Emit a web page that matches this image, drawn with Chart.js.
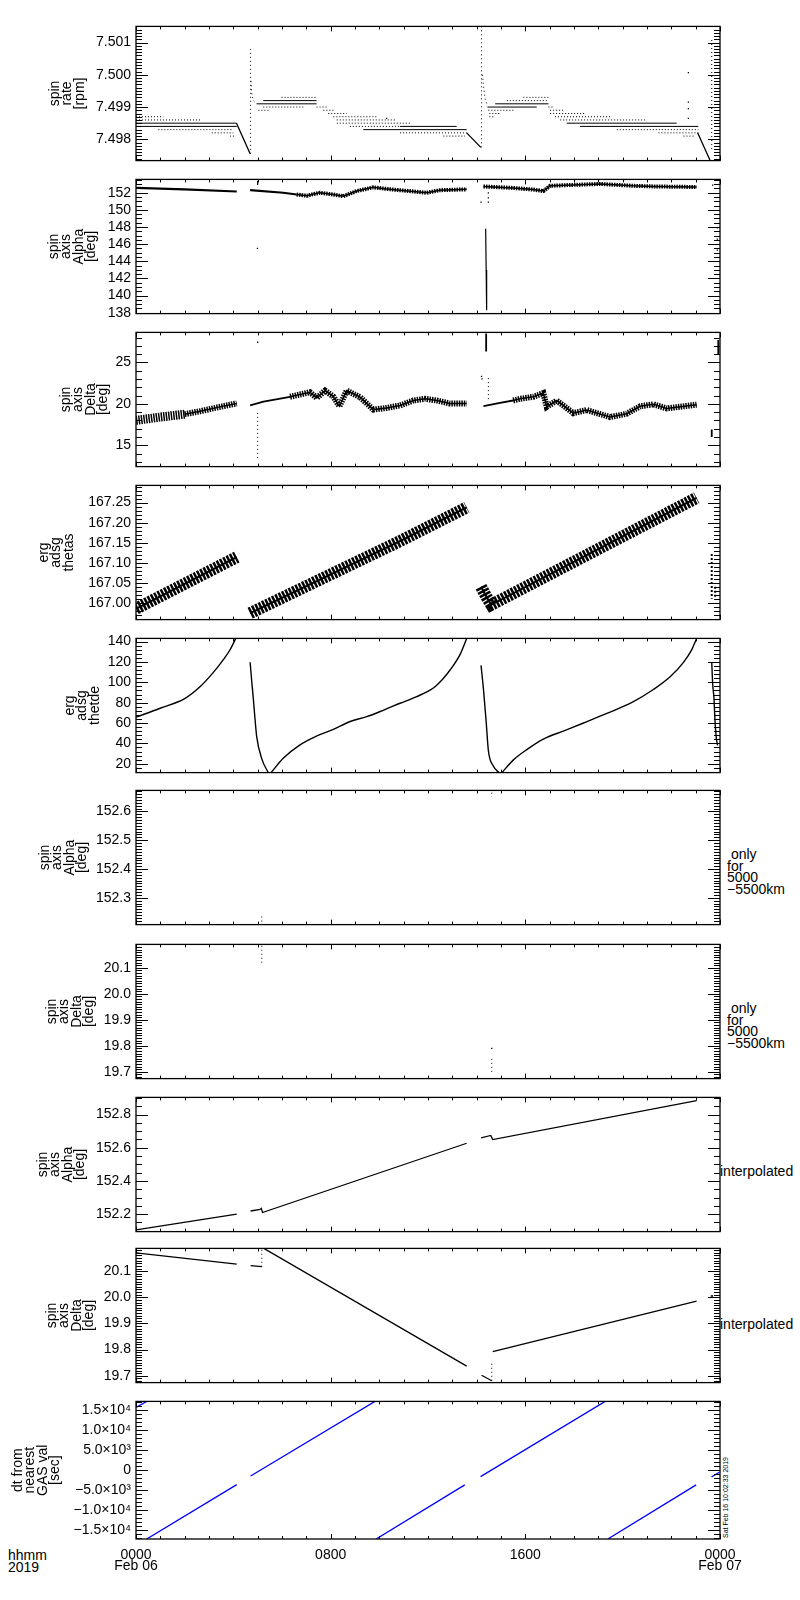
<!DOCTYPE html>
<html>
<head>
<meta charset="utf-8">
<script src="https://cdn.jsdelivr.net/npm/chart.js"></script>
<style>
  body { margin: 0; background: #fff; }
  #page { position: relative; width: 800px; height: 1600px; font-family: "Liberation Sans", Arial, sans-serif; color: #000; }
  .panel { position: absolute; left: 0; width: 800px; }
  .note { position: absolute; font-size: 14px; line-height: 11.5px; white-space: pre; }
  .stamp { position: absolute; font-size: 7px; line-height: 7px; white-space: pre; transform: rotate(-90deg); transform-origin: left top; }
</style>
</head>
<body>
<div id="page">
  <div class="note" style="left:8px;top:1550px;">hhmm
2019</div>
  <div class="note" style="left:727px;top:849px;"> only
for
5000
−5500km</div>
  <div class="note" style="left:727px;top:1003px;"> only
for
5000
−5500km</div>
  <div class="note" style="left:720px;top:1166px;">interpolated</div>
  <div class="note" style="left:720px;top:1319px;">interpolated</div>
  <div class="stamp" style="left:722px;top:1538px;">Sat Feb 16 10:02:33 2019</div>
</div>
<script>
// ---- x axis (hours since 0000 Feb 06) ----
const hourTicks = [0, 8, 16, 24];
const hourLabels = [['0000', 'Feb 06'], ['0800', ''], ['1600', ''], ['0000', 'Feb 07']];

// ---- panel 1: spin rate [rpm] ----
const rateTicks = [7.498, 7.499, 7.500, 7.501];
const rateTickLabels = ['7.498', '7.499', '7.500', '7.501'];
// quantised levels: [from h, to h, rpm]
const rateSolid = [
    [0, 4.14, 7.4985], [0, 4.14, 7.4984],
    [4.96, 7.42, 7.4991], [5.23, 7.42, 7.4992],
    [9.34, 13.59, 7.4983], [10.85, 13.18, 7.4984],
    [14.76, 16.95, 7.4991], [14.44, 16.47, 7.4990],
    [17.70, 22.22, 7.4985], [18.25, 23.11, 7.4984]
];
const rateDotted = [
    [0, 1.12, 7.4987], [0, 2.70, 7.4986], [0.92, 4.0, 7.4983], [3.11, 4.0, 7.4982], [3.86, 4.07, 7.4981],
    [5.98, 7.42, 7.4993], [5.23, 6.88, 7.4990], [5.03, 5.51, 7.4989],
    [7.42, 7.90, 7.4990], [7.70, 8.11, 7.4989], [7.90, 8.66, 7.4988], [8.11, 9.89, 7.4987],
    [8.25, 10.71, 7.4986], [8.25, 11.33, 7.4985], [8.79, 10.85, 7.4984], [10.85, 13.59, 7.4982], [12.63, 13.52, 7.4981],
    [15.92, 16.95, 7.4993], [15.24, 16.95, 7.4992], [14.48, 15.58, 7.4989], [14.52, 14.96, 7.4988], [14.52, 14.76, 7.4987],
    [16.95, 17.18, 7.4990], [17.02, 17.63, 7.4989], [17.02, 18.45, 7.4988], [17.22, 19.48, 7.4987],
    [17.43, 20.99, 7.4986], [19.76, 23.11, 7.4983], [21.47, 23.11, 7.4982], [22.50, 22.98, 7.4981]
];
const rateDrops = [[4.13, 7.4985], [4.69, 7.49755], null, [13.59, 7.4982], [14.17, 7.49775], null, [23.08, 7.4982], [23.59, 7.49735]];
const rateSpikes = [
    [4.71, 7.49755], [4.71, 7.5008], null, [4.73, 7.4998], [4.75, 7.49945], [4.82, 7.4992], [4.96, 7.4991], null,
    [14.2, 7.49775], [14.2, 7.5015], null, [14.24, 7.5], [14.28, 7.49965], [14.35, 7.49925], [14.44, 7.49905], null,
    [23.66, 7.4977], [23.66, 7.5011]
];
const rateDots = [[22.7, 7.50007], [22.7, 7.49915], [22.7, 7.49895], [22.7, 7.49865], [10.3, 7.49865]];

// ---- panel 2: spin axis Alpha [deg] ----
const alphaTicks = [138, 140, 142, 144, 146, 148, 150, 152];
const alphaTickLabels = ['138', '140', '142', '144', '146', '148', '150', '152'];
const alphaThin = [[0, 152.56], [2, 152.4], [4.14, 152.15], null, [4.69, 152.3], [6.05, 152.0], [6.6, 151.8]];
const alphaNoisy = [
    [6.6, 151.8], [7.02, 151.65], [7.3, 151.85], [7.56, 152.0], [8.1, 151.8], [8.52, 151.6], [9.07, 152.2],
    [9.75, 152.63], [10.3, 152.45], [10.85, 152.3], [11.95, 152.0], [12.49, 152.3], [13.59, 152.4], null,
    [14.28, 152.74], [15.5, 152.56], [16.33, 152.37], [16.74, 152.2], [17.02, 152.81], [17.97, 152.92],
    [19.07, 153.03], [20.44, 152.81], [21.26, 152.74], [23.04, 152.67]
];
const alphaDrop = [[14.37, 147.8], [14.39, 143.0], [14.4, 140.0], [14.42, 138.3], null, [5.0, 153.4], [5.0, 152.9]];
const alphaDots = [[4.99, 145.5], [14.18, 150.9], [14.48, 152.0], [14.48, 151.4], [14.48, 150.9], [23.89, 147.9], [23.89, 146.6], [23.89, 145.3], [23.7, 152.9]];

// ---- panel 3: spin axis Delta [deg] ----
const deltaTicks = [15, 20, 25];
const deltaTickLabels = ['15', '20', '25'];
const deltaWide = [[0, 18.0], [1.0, 18.4], [2.0, 18.75]];
const deltaNoisy = [
    [2.0, 18.75], [2.63, 19.1], [3.4, 19.6], [4.14, 20.05], null,
    [6.33, 20.85], [7.15, 21.4], [7.43, 20.7], [7.77, 21.6], [8.1, 20.9], [8.36, 19.7], [8.66, 21.6], [9.21, 20.8],
    [9.75, 19.3], [10.3, 19.5], [10.85, 19.8], [11.4, 20.4], [11.88, 20.6], [12.36, 20.4], [12.9, 20.03], [13.59, 20.03], null,
    [15.5, 20.4], [15.78, 20.6], [16.33, 20.85], [16.74, 21.3], [16.88, 19.63], [17.29, 20.4], [17.97, 18.87], [18.52, 19.25],
    [19.48, 18.4], [20.17, 18.8], [20.71, 19.7], [21.26, 19.94], [21.81, 19.44], [23.04, 19.9]
];
const deltaThin = [[4.69, 19.8], [5.24, 20.25], [6.33, 20.85], null, [14.28, 19.71], [14.96, 20.1], [15.5, 20.4], null,
    [14.39, 28.5], [14.39, 26.3], null, [23.93, 27.7], [23.93, 26.0], null, [23.66, 16.9], [23.66, 16.0]];
const deltaDotted = [[5.0, 18.9], [5.0, 13.1], null, [14.48, 23.1], [14.48, 20.4]];
const deltaDots = [[5.0, 27.43], [14.2, 23.3], [14.22, 23.0]];

// ---- panel 4: erg adsg thetas ----
const thetasTicks = [167.00, 167.05, 167.10, 167.15, 167.20, 167.25];
const thetasTickLabels = ['167.00', '167.05', '167.10', '167.15', '167.20', '167.25'];
const thetasBand = [[0, 166.985], [4.14, 167.114], null, [4.69, 166.974], [10.85, 167.154], [13.59, 167.238], null,
    [14.18, 167.04], [14.4, 167.015], [14.6, 166.995], [23.04, 167.262]];
const thetasEdge = [[23.66, 167.122], [23.66, 167.01], null, [23.8, 167.04], [23.8, 167.01]];

// ---- panel 5: erg adsg thetde ----
const thetdeTicks = [20, 40, 60, 80, 100, 120, 140];
const thetdeTickLabels = ['20', '40', '60', '80', '100', '120', '140'];
const thetdeCurve = [
    [0, 65.7], [0.99, 74.5], [2.0, 84], [2.63, 95.6], [3.18, 109.7], [3.59, 122.3], [3.86, 131.7], [4.11, 143.5], null,
    [4.69, 119.7], [4.76, 100], [4.82, 84.4], [4.87, 70], [4.96, 46.7], [5.17, 24.8], [5.44, 11], null,
    [5.54, 11], [6.05, 25.4], [6.74, 38.6], [7.43, 47.3], [8.11, 53.7], [8.8, 61.5], [9.48, 66.2], [10.16, 72.5],
    [10.85, 79.4], [11.54, 86], [12.22, 94.4], [12.6, 103], [12.9, 111.8], [13.32, 127.4], [13.59, 143.1], null,
    [14.18, 116.6], [14.28, 93], [14.39, 61.5], [14.48, 33.2], [14.69, 17.5], [14.93, 11], null,
    [15.03, 11], [15.51, 23.8], [16.06, 33.9], [16.74, 44.2], [17.56, 52.1], [18.39, 60], [19.35, 69.4],
    [20.44, 81], [21.26, 92.9], [21.95, 105.4], [22.5, 119.6], [22.84, 132.1], [23.04, 143], null,
    [23.66, 120], [23.7, 98], [23.75, 85], [23.8, 60], [23.85, 45], [23.9, 38]
];

// ---- panel 6: spin axis Alpha [deg], 5000-5500 km only ----
const alphaOnlyTicks = [152.3, 152.4, 152.5, 152.6];
const alphaOnlyTickLabels = ['152.3', '152.4', '152.5', '152.6'];
const alphaOnly = [[5.17, 152.235], [5.17, 152.215], null, [14.62, 152.665], [14.62, 152.65]];

// ---- panel 7: spin axis Delta [deg], 5000-5500 km only ----
const deltaOnlyTicks = [19.7, 19.8, 19.9, 20.0, 20.1];
const deltaOnlyTickLabels = ['19.7', '19.8', '19.9', '20.0', '20.1'];
const deltaOnly = [[5.17, 20.185], [5.17, 20.115], null, [14.62, 19.75], [14.62, 19.69]];
const deltaOnlyDots = [[14.62, 19.79]];

// ---- panel 8: spin axis Alpha [deg], interpolated ----
const alphaIntTicks = [152.2, 152.4, 152.6, 152.8];
const alphaIntTickLabels = ['152.2', '152.4', '152.6', '152.8'];
const alphaInterp = [[0, 152.105], [4.14, 152.2], null, [4.71, 152.219], [5.10, 152.228], [5.15, 152.235], [5.2, 152.21],
    [13.59, 152.627], null, [14.18, 152.66], [14.58, 152.674], [14.66, 152.649], [23.04, 152.883]];

// ---- panel 9: spin axis Delta [deg], interpolated ----
const deltaIntTicks = [19.7, 19.8, 19.9, 20.0, 20.1];
const deltaIntTickLabels = ['19.7', '19.8', '19.9', '20.0', '20.1'];
const deltaInterp = [[0, 20.17], [4.14, 20.127], null, [4.71, 20.121], [5.17, 20.117], null, [5.2, 20.19], [13.59, 19.737], null,
    [14.2, 19.702], [14.62, 19.681], null, [14.66, 19.792], [23.04, 19.985], null, [23.62, 20.005], [23.72, 20.005]];
const deltaInterpDotted = [[5.17, 20.117], [5.17, 20.187], null, [14.62, 19.681], [14.62, 19.75]];

// ---- panel 10: dt from nearest GAS val [sec] ----
const dtTicks = [-15000, -10000, -5000, 0, 5000, 10000, 15000];
const dtTickLabels = ['−1.5×10⁴', '−1.0×10⁴', '−5.0×10³', '0', '5.0×10³', '1.0×10⁴', '1.5×10⁴'];
const gasDt = [[0, 15700], [0.44, 17200], null, [0.44, -17200], [4.14, -3600], null, [4.71, -1440], [9.82, 17200], null,
    [9.87, -17200], [13.51, -3680], null, [14.16, -1600], [19.28, 17200], null, [19.39, -17200], [23.02, -3680], null,
    [23.65, -1700], [23.97, -500]];

const FONT = '"Liberation Sans", Arial, sans-serif';
const panelTops = [23, 176, 329, 482, 635, 787, 941, 1094, 1245, 1398];
const PLOT_H = 141;

function pts(list) {
    const out = [];
    let lastX = 0;
    list.forEach(p => {
        if (p === null) {
            out.push({x: lastX, y: null});
        } else {
            out.push({x: p[0], y: p[1]});
            lastX = p[0];
        }
    });
    return out;
}

function levels(list) {
    const out = [];
    list.forEach(s => out.push([s[0], s[2]], [s[1], s[2]], null));
    return out;
}

function path(list, width, extra) {
    return Object.assign({
        data: pts(list), borderColor: '#000', borderWidth: width, pointRadius: 0,
        tension: 0, fill: false, spanGaps: false
    }, extra || {});
}

function dots(list) {
    return {
        data: pts(list), showLine: false, pointRadius: 0.9, pointStyle: 'rect',
        pointBackgroundColor: '#000', pointBorderWidth: 0, borderColor: '#000'
    };
}

// frame plus inward tick marks on all four sides
const frameTicks = {
    id: 'frameTicks',
    afterDraw(chart, args, opts) {
        const {ctx, chartArea: a, scales: {x, y}} = chart;
        ctx.save();
        ctx.strokeStyle = '#000';
        ctx.lineWidth = 1;
        ctx.beginPath();
        for (let h = 0; h <= 24; h++) {
            const px = Math.round(x.getPixelForValue(h)) + 0.5;
            const len = h % 8 === 0 ? 5 : 3;
            ctx.moveTo(px, a.bottom); ctx.lineTo(px, a.bottom - len);
            ctx.moveTo(px, a.top); ctx.lineTo(px, a.top + len);
        }
        const step = opts.minor;
        const k0 = Math.ceil(y.min / step - 1e-6), k1 = Math.floor(y.max / step + 1e-6);
        for (let k = k0; k <= k1; k++) {
            const v = k * step;
            const isMajor = opts.major.some(t => Math.abs(t - v) < step / 2);
            const len = isMajor ? 12 : 6;
            const py = Math.round(y.getPixelForValue(v)) + 0.5;
            ctx.moveTo(a.left, py); ctx.lineTo(a.left + len, py);
            ctx.moveTo(a.right, py); ctx.lineTo(a.right - len, py);
        }
        ctx.stroke();
        ctx.lineWidth = 1.3;
        ctx.strokeRect(a.left, a.top, a.width, a.height);
        ctx.restore();
    }
};

function makePanel(i, cfg) {
    const last = cfg.last === true;
    const padTop = 10, padBottom = last ? 0 : 10, xAxisH = last ? 48 : 0;
    const wrap = document.createElement('div');
    wrap.className = 'panel';
    wrap.style.top = (panelTops[i] - padTop) + 'px';
    wrap.style.height = (PLOT_H + padTop + padBottom + xAxisH) + 'px';
    const canvas = document.createElement('canvas');
    wrap.appendChild(canvas);
    document.getElementById('page').appendChild(wrap);

    new Chart(canvas, {
        type: 'line',
        data: {datasets: cfg.datasets},
        options: {
            responsive: true,
            maintainAspectRatio: false,
            animation: false,
            events: [],
            layout: {padding: {left: 0, right: 80, top: padTop, bottom: padBottom}},
            plugins: {
                legend: {display: false},
                tooltip: {enabled: false},
                frameTicks: {minor: cfg.minor, major: cfg.ticks}
            },
            scales: {
                x: {
                    type: 'linear', min: 0, max: 24, display: last,
                    afterBuildTicks: s => { s.ticks = hourTicks.map(v => ({value: v})); },
                    afterFit: s => { s.height = xAxisH; },
                    ticks: {
                        callback: (v, idx) => hourLabels[idx], autoSkip: false, maxRotation: 0,
                        padding: 10, color: '#000', font: {family: FONT, size: 14, lineHeight: '11.5px'}
                    },
                    grid: {display: false, drawTicks: false},
                    border: {display: false}
                },
                y: {
                    type: 'linear', min: cfg.min, max: cfg.max,
                    afterBuildTicks: s => { s.ticks = cfg.ticks.map(v => ({value: v})); },
                    afterFit: s => { s.width = 136; },
                    ticks: {
                        callback: (v, idx) => cfg.labels[idx], autoSkip: false, padding: 5,
                        color: '#000', font: {family: FONT, size: 14}
                    },
                    grid: {display: false, drawTicks: false},
                    border: {display: false},
                    title: {
                        display: true, text: cfg.title, color: '#000',
                        font: {family: FONT, size: 14, lineHeight: '12.5px'},
                        padding: {top: cfg.titleX - 6.25, bottom: 0}
                    }
                }
            }
        },
        plugins: [frameTicks]
    });
}

const dotted = {borderDash: [1, 3]};
const speckle = {borderDash: [1.5, 1]};

makePanel(0, {
    title: ['spin', 'rate', '[rpm]'], titleX: 55, min: 7.49734, max: 7.5015, minor: 0.0001,
    ticks: rateTicks, labels: rateTickLabels,
    datasets: [
        path(levels(rateSolid), 1),
        path(levels(rateDotted), 1, {borderDash: [1, 2]}),
        path(rateDrops, 1.3),
        path(rateSpikes, 1, dotted),
        dots(rateDots)
    ]
});
makePanel(1, {
    title: ['spin', 'axis', 'Alpha', '[deg]'], titleX: 54, min: 137.9, max: 153.56, minor: 0.5,
    ticks: alphaTicks, labels: alphaTickLabels,
    datasets: [path(alphaThin, 2.2), path(alphaNoisy, 4, speckle), path(alphaNoisy, 1.5), path(alphaDrop, 1.2), dots(alphaDots)]
});
makePanel(2, {
    title: ['spin', 'axis', 'Delta', '[deg]'], titleX: 66, min: 12.42, max: 28.62, minor: 1,
    ticks: deltaTicks, labels: deltaTickLabels,
    datasets: [path(deltaWide, 9, speckle), path(deltaNoisy, 6, speckle), path(deltaNoisy, 1.5), path(deltaThin, 1.8),
        path(deltaDotted, 1, dotted), dots(deltaDots)]
});
makePanel(3, {
    title: ['erg', 'adsg', 'thetas'], titleX: 44, min: 166.958, max: 167.293, minor: 0.01,
    ticks: thetasTicks, labels: thetasTickLabels,
    datasets: [path(thetasBand, 12, {borderDash: [2.5, 1.2]}), path(thetasBand, 2), path(thetasEdge, 2, {borderDash: [2, 2]})]
});
makePanel(4, {
    title: ['erg', 'adsg', 'thetde'], titleX: 70, min: 11.3, max: 143.1, minor: 4,
    ticks: thetdeTicks, labels: thetdeTickLabels,
    datasets: [path(thetdeCurve, 1.4, {cubicInterpolationMode: 'monotone'})]
});
makePanel(5, {
    title: ['spin', 'axis', 'Alpha', '[deg]'], titleX: 45, min: 152.207, max: 152.673, minor: 0.01,
    ticks: alphaOnlyTicks, labels: alphaOnlyTickLabels,
    datasets: [path(alphaOnly, 1, dotted)]
});
makePanel(6, {
    title: ['spin', 'axis', 'Delta', '[deg]'], titleX: 52, min: 19.674, max: 20.19, minor: 0.01,
    ticks: deltaOnlyTicks, labels: deltaOnlyTickLabels,
    datasets: [path(deltaOnly, 1, dotted), dots(deltaOnlyDots)]
});
makePanel(7, {
    title: ['spin', 'axis', 'Alpha', '[deg]'], titleX: 43, min: 152.095, max: 152.903, minor: 0.05,
    ticks: alphaIntTicks, labels: alphaIntTickLabels,
    datasets: [path(alphaInterp, 1.3)]
});
makePanel(8, {
    title: ['spin', 'axis', 'Delta', '[deg]'], titleX: 52, min: 19.674, max: 20.187, minor: 0.01,
    ticks: deltaIntTicks, labels: deltaIntTickLabels,
    datasets: [path(deltaInterp, 1.3), path(deltaInterpDotted, 1, dotted)]
});
makePanel(9, {
    title: ['dt from', 'nearest', 'GAS val', '[sec]'], titleX: 18, min: -17200, max: 17200, minor: 1000,
    ticks: dtTicks, labels: dtTickLabels, last: true,
    datasets: [path(gasDt, 1.3, {borderColor: '#0000ff'})]
});
</script>
</body>
</html>
